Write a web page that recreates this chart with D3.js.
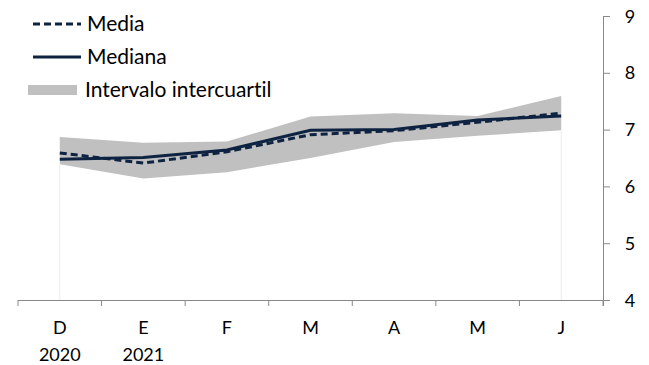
<!DOCTYPE html>
<html><head><meta charset="utf-8">
<script src="https://cdn.jsdelivr.net/npm/d3@7"></script>
<style>body{margin:0;background:#fff}svg{display:block}text{font-family:Lato,"Open Sans",sans-serif;fill:#000;font-variant-ligatures:none;font-feature-settings:"liga" 0}</style>
</head><body>
<script>
const categories = ["D","E","F","M","A","M","J"];
const yearLabels = ["2020","2021","","","","",""];
const media   = [6.59, 6.41, 6.61, 6.91, 6.98, 7.13, 7.29];
const mediana = [6.48, 6.51, 6.64, 6.99, 7.00, 7.17, 7.24];
const q1      = [6.39, 6.14, 6.25, 6.50, 6.78, 6.89, 6.99];
const q3      = [6.87, 6.77, 6.79, 7.23, 7.29, 7.24, 7.59];
const yTicks  = [4,5,6,7,8,9];
const legendLabels = ["Media","Mediana","Intervalo intercuartil"];

const W=649,H=365;
const svg=d3.select("body").append("svg").attr("width",W).attr("height",H);
const x=d3.scaleBand().domain(d3.range(categories.length)).range([18,603]);
const y=d3.scaleLinear().domain([4,9]).range([300,16]);
const cx=i=>x(i)+x.bandwidth()/2;
const navy="#0e2341";

const idx=d3.range(categories.length);
svg.append("path").datum(idx)
  .attr("d",d3.area().x(cx).y0(i=>y(q1[i])).y1(i=>y(q3[i])))
  .attr("fill","#c0c0c0");
[0,categories.length-1].forEach(i=>{
  svg.append("line").attr("x1",cx(i)).attr("x2",cx(i)).attr("y1",y(q1[i])).attr("y2",y(4))
    .attr("stroke","#ececec").attr("stroke-width",1);
});
svg.append("path").datum(idx).attr("d",d3.line().x(cx).y(i=>y(mediana[i])))
  .attr("fill","none").attr("stroke",navy).attr("stroke-width",3);
svg.append("path").datum(idx).attr("d",d3.line().x(cx).y(i=>y(media[i])))
  .attr("fill","none").attr("stroke",navy).attr("stroke-width",3).attr("stroke-dasharray","7,4");

const axColor="#898989";
svg.append("line").attr("x1",x.range()[0]).attr("x2",610).attr("y1",y(4)+0.5).attr("y2",y(4)+0.5).attr("stroke",axColor);
const bounds=d3.range(categories.length+1).map(i=>i<categories.length?x(i):x.range()[1]);
bounds.forEach(b=>svg.append("line").attr("x1",b).attr("x2",b).attr("y1",y(4)).attr("y2",y(4)+6).attr("stroke",axColor));
svg.append("g").selectAll("text").data(categories).join("text")
  .attr("x",(d,i)=>cx(i)).attr("y",334).attr("text-anchor","middle").attr("font-size",18).text(d=>d);
svg.append("g").selectAll("text").data(yearLabels).join("text")
  .attr("x",(d,i)=>cx(i)).attr("y",361).attr("text-anchor","middle").attr("font-size",18).text(d=>d);

svg.append("line").attr("x1",603.5).attr("x2",603.5).attr("y1",y(9)).attr("y2",y(4)+6).attr("stroke",axColor);
yTicks.forEach(t=>{
  svg.append("line").attr("x1",603).attr("x2",610).attr("y1",y(t)+0.5).attr("y2",y(t)+0.5).attr("stroke",axColor);
  svg.append("text").attr("x",630).attr("y",y(t)+6.5).attr("text-anchor","middle").attr("font-size",18).text(t);
});

const lg=svg.append("g");
lg.append("line").attr("x1",33).attr("x2",81).attr("y1",24).attr("y2",24).attr("stroke",navy).attr("stroke-width",3).attr("stroke-dasharray","7,4");
lg.append("text").attr("x",87).attr("y",31).attr("font-size",21).text(legendLabels[0]);
lg.append("line").attr("x1",33).attr("x2",81).attr("y1",57).attr("y2",57).attr("stroke",navy).attr("stroke-width",3);
lg.append("text").attr("x",87).attr("y",64).attr("font-size",21).text(legendLabels[1]);
lg.append("rect").attr("x",28).attr("y",85).attr("width",49).attr("height",10).attr("fill","#c0c0c0");
lg.append("text").attr("x",85).attr("y",97).attr("font-size",21).text(legendLabels[2]);
</script>
</body></html>
